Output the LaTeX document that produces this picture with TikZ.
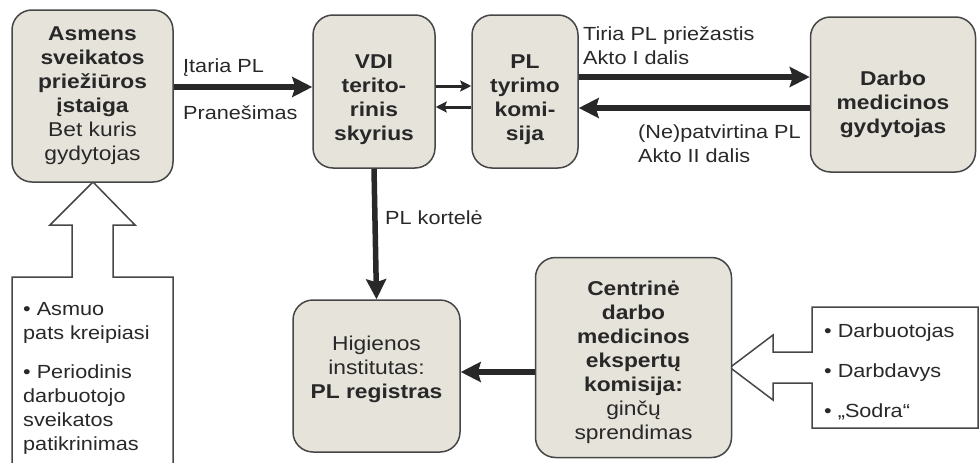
\documentclass[tikz,border=0pt]{standalone}
\usepackage{fontspec}
\setmainfont{Liberation Sans}[FakeStretch=1.14]
\usetikzlibrary{arrows.meta}
\definecolor{boxfill}{RGB}{230,227,219}
\definecolor{boxline}{RGB}{70,70,70}
\definecolor{txt}{RGB}{40,40,40}
\tikzset{
  box/.style={draw=boxline, line width=1.5pt, fill=boxfill, rounded corners=20pt,
    align=center, inner sep=0pt, text=txt, font=\fontsize{20}{24}\selectfont},
  lbl/.style={text=txt, font=\fontsize{19}{24}\selectfont, inner sep=0pt, anchor=base west},
  big/.style={line width=5.5pt, draw=txt, -{Stealth[length=20pt,width=20pt,inset=3pt]}},
  small/.style={line width=3pt, draw=txt, -{Stealth[length=11pt,width=11pt,inset=2pt]}},
  blk/.style={draw=boxline, line width=1.5pt, fill=white, line join=miter},
}
\begin{document}
\begin{tikzpicture}[x=1pt,y=-1pt]
\useasboundingbox (0,0) rectangle (980,463);
% block arrows
\draw[blk] (12,470) -- (12,277) -- (72,277) -- (72,225) -- (50,225) -- (93,182) -- (135,225) -- (113,225) -- (113,277) -- (173,277) -- (173,470);
\draw[blk] (978,307) -- (812,307) -- (812,352) -- (773,352) -- (773,335) -- (730,367.5) -- (773,400) -- (773,383) -- (812,383) -- (812,428) -- (978,428) -- cycle;
% boxes
\node[box, minimum width=161pt, minimum height=172pt] (asm) at (92.5,96)
  {\bfseries Asmens\\\bfseries sveikatos\\\bfseries priežiūros\\\bfseries įstaiga\\Bet kuris\\gydytojas};
\node[box, minimum width=122pt, minimum height=153pt] (vdi) at (374,91.5)
  {\rule{0pt}{30pt}\bfseries VDI\\\bfseries terito-\\\bfseries rinis\\\bfseries skyrius};
\node[box, minimum width=106pt, minimum height=153pt] (plt) at (525,91.5)
  {\rule{0pt}{30pt}\bfseries PL\\\bfseries tyrimo\\\bfseries komi-\\\bfseries sija};
\node[box, minimum width=165pt, minimum height=155pt] (dmg) at (893,94.5)
  {\rule{0pt}{34pt}\bfseries Darbo\\\bfseries medicinos\\\bfseries gydytojas};
\node[box, minimum width=167pt, minimum height=152pt] (hig) at (376.5,376)
  {Higienos\\institutas:\\\bfseries PL registras\rule[-18pt]{0pt}{0pt}};
\node[box, minimum width=196pt, minimum height=200pt] (cen) at (633.5,357.5)
  {\rule{0pt}{25pt}\bfseries Centrinė\\\bfseries darbo\\\bfseries medicinos\\\bfseries ekspertų\\\bfseries komisija:\\ginčų\\sprendimas};
% connectors
\draw[big] (asm.east |- 0,87) -- (vdi.west |- 0,87);
\draw[small] (vdi.east |- 0,86) -- (plt.west |- 0,86);
\path (plt.west |- 0,107) coordinate (s1) (vdi.east |- 0,107) coordinate (s2);
\draw[small] (s1) -- (s2);
\draw[big] (plt.east |- 0,77) -- (dmg.west |- 0,77);
\draw[big] (dmg.west |- 0,108) -- (plt.east |- 0,108);
\draw[big] (vdi.south) -- (hig.north);
\draw[big] (cen.west |- 0,372) -- (hig.east |- 0,372);
% labels
\node[lbl] (l1) at (183,72) {Įtaria PL};
\node[lbl] (l2) at (183,119) {Pranešimas};
\node[lbl] (l3) at (583,40) {Tiria PL priežastis};
\node[lbl] (l4) at (583,64) {Akto I dalis};
\node[lbl] (l5) at (638,138) {(Ne)patvirtina PL};
\node[lbl] (l6) at (638,162) {Akto II dalis};
\node[lbl] (l7) at (385,224) {PL kortelė};
% bullet lists
\node[lbl] (b1) at (23,315) {• Asmuo};
\node[lbl] (b2) at (23,339) {pats kreipiasi};
\node[lbl] (b3) at (23,378) {• Periodinis};
\node[lbl] (b4) at (23,402) {darbuotojo};
\node[lbl] (b5) at (23,426) {sveikatos};
\node[lbl] (b6) at (23,450) {patikrinimas};
\node[lbl] (r1) at (824,337) {• Darbuotojas};
\node[lbl] (r2) at (824,377) {• Darbdavys};
\node[lbl] (r3) at (824,417) {• „Sodra“};
\end{tikzpicture}
\end{document}
